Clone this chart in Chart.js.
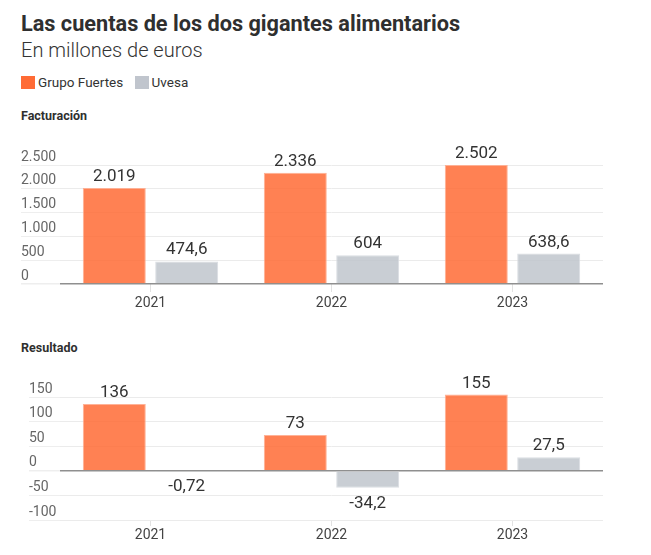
<!DOCTYPE html>
<html>
<head>
<meta charset="utf-8">
<script src="https://cdn.jsdelivr.net/npm/chart.js@4"></script>
<style>
  body { margin: 0; background: #fff; font-family: Roboto, sans-serif; color: #333; }
  .wrap { position: relative; width: 651px; height: 555px; }
  .txt { position: absolute; left: 21px; line-height: 1; white-space: nowrap; }
  #title { top: 13px; font-size: 21.7px; font-weight: 700; color: #2f2f2f; }
  #sub { top: 40px; font-size: 20px; font-weight: 300; color: #333; }
  #legend { top: 76px; font-size: 13.5px; color: #333; }
  #legend span.sw { display: inline-block; width: 14px; height: 13px; vertical-align: -2px; margin-right: 3px; }
  #legend span.item { margin-right: 8px; }
  .sec { font-size: 12.5px; font-weight: 700; color: #2f2f2f; }
  #sec1 { top: 110px; }
  #sec2 { top: 342px; }
  canvas { position: absolute; left: 0; }
  #c1 { top: 130px; }
  #c2 { top: 360px; }
</style>
</head>
<body>
<div class="wrap">
  <div class="txt" id="title">Las cuentas de los dos gigantes alimentarios</div>
  <div class="txt" id="sub">En millones de euros</div>
  <div class="txt" id="legend">
    <span class="item"><span class="sw" style="background:#ff6b35"></span>Grupo Fuertes</span>
    <span class="item"><span class="sw" style="background:#c0c5cd"></span>Uvesa</span>
  </div>
  <div class="txt sec" id="sec1">Facturación</div>
  <div class="txt sec" id="sec2">Resultado</div>
  <canvas id="c1" width="651" height="190"></canvas>
  <canvas id="c2" width="651" height="190"></canvas>
</div>
<script>
// Data
const years = ['2021', '2022', '2023'];
const seriesNames = ['Grupo Fuertes', 'Uvesa'];
const facturacionFuertes = [2019, 2336, 2502];
const facturacionUvesa = [474.6, 604, 638.6];
const resultadoFuertes = [136, 73, 155];
const resultadoUvesa = [-0.72, -34.2, 27.5];
const facturacionTicks = [0, 2500, 500]; // min, max, step
const resultadoTicks = [-100, 150, 50];

const orange = 'rgba(255,107,53,0.85)';
const gray = 'rgba(192,197,205,0.85)';

// spanish number format: 2.019 / 474,6
function fmt(v) {
  const neg = v < 0;
  const parts = String(Math.abs(v)).split('.');
  const intPart = parts[0].replace(/\B(?=(\d{3})+(?!\d))/g, '.');
  return (neg ? '-' : '') + intPart + (parts[1] ? ',' + parts[1] : '');
}

// value labels above / below bars
const valueLabels = {
  id: 'valueLabels',
  afterDatasetsDraw(chart) {
    const ctx = chart.ctx;
    ctx.save();
    ctx.font = '17px Roboto, sans-serif';
    ctx.fillStyle = '#333';
    ctx.textAlign = 'center';
    ctx.textBaseline = 'alphabetic';
    chart.data.datasets.forEach((ds, di) => {
      const meta = chart.getDatasetMeta(di);
      meta.data.forEach((bar, i) => {
        const v = ds.data[i];
        if (v >= 0) ctx.fillText(fmt(v), bar.x, bar.y - 7);
        else ctx.fillText(fmt(v), bar.x, bar.y + 20);
      });
    });
    ctx.restore();
  }
};

function makeChart(id, fuertes, uvesa, tickCfg, axisW, padLeft, padTop, xTickLen, xPad, xAxisH, padBottom) {
  return new Chart(document.getElementById(id), {
    type: 'bar',
    data: {
      labels: years,
      datasets: [
        { label: seriesNames[0], data: fuertes, backgroundColor: orange,
          borderColor: 'rgba(255,170,140,0.9)', borderWidth: 1, clip: false },
        { label: seriesNames[1], data: uvesa, backgroundColor: gray,
          borderColor: 'rgba(215,218,224,0.9)', borderWidth: 1, clip: false }
      ]
    },
    options: {
      responsive: false,
      animation: false,
      devicePixelRatio: 1,
      categoryPercentage: 0.8,
      barPercentage: 0.87,
      layout: { padding: { left: padLeft, right: 48, top: padTop, bottom: padBottom } },
      plugins: { legend: { display: false }, tooltip: { enabled: false } },
      scales: {
        x: {
          afterFit(axis) { axis.height = xAxisH; },
          grid: { display: true, drawOnChartArea: false, offset: false, tickLength: xTickLen, color: '#e2e2e2' },
          border: { display: false },
          ticks: { color: '#444', padding: xPad, font: { family: 'Roboto', size: 14 } }
        },
        y: {
          min: tickCfg[0],
          max: tickCfg[1],
          afterFit(axis) { axis.width = axisW; },
          border: { display: false },
          grid: {
            color: c => (c.tick && c.tick.value === 0 ? '#8f8f8f' : '#ebebeb'),
            lineWidth: c => (c.tick && c.tick.value === 0 ? 1.5 : 1),
            tickColor: '#eeeeee',
            tickLength: axisW,
            drawTicks: true
          },
          ticks: {
            stepSize: tickCfg[2],
            crossAlign: 'far',
            labelOffset: -8,
            padding: 0,
            color: '#666',
            font: { family: 'Roboto', size: 14 },
            callback: v => fmt(v)
          }
        }
      }
    },
    plugins: [valueLabels]
  });
}

makeChart('c1', facturacionFuertes, facturacionUvesa, facturacionTicks, 39, 21, 35, 8, 3, 30, 6);
makeChart('c2', resultadoFuertes, resultadoUvesa, resultadoTicks, 31, 29, 37, 6, 1, 26, 4);
</script>
</body>
</html>
